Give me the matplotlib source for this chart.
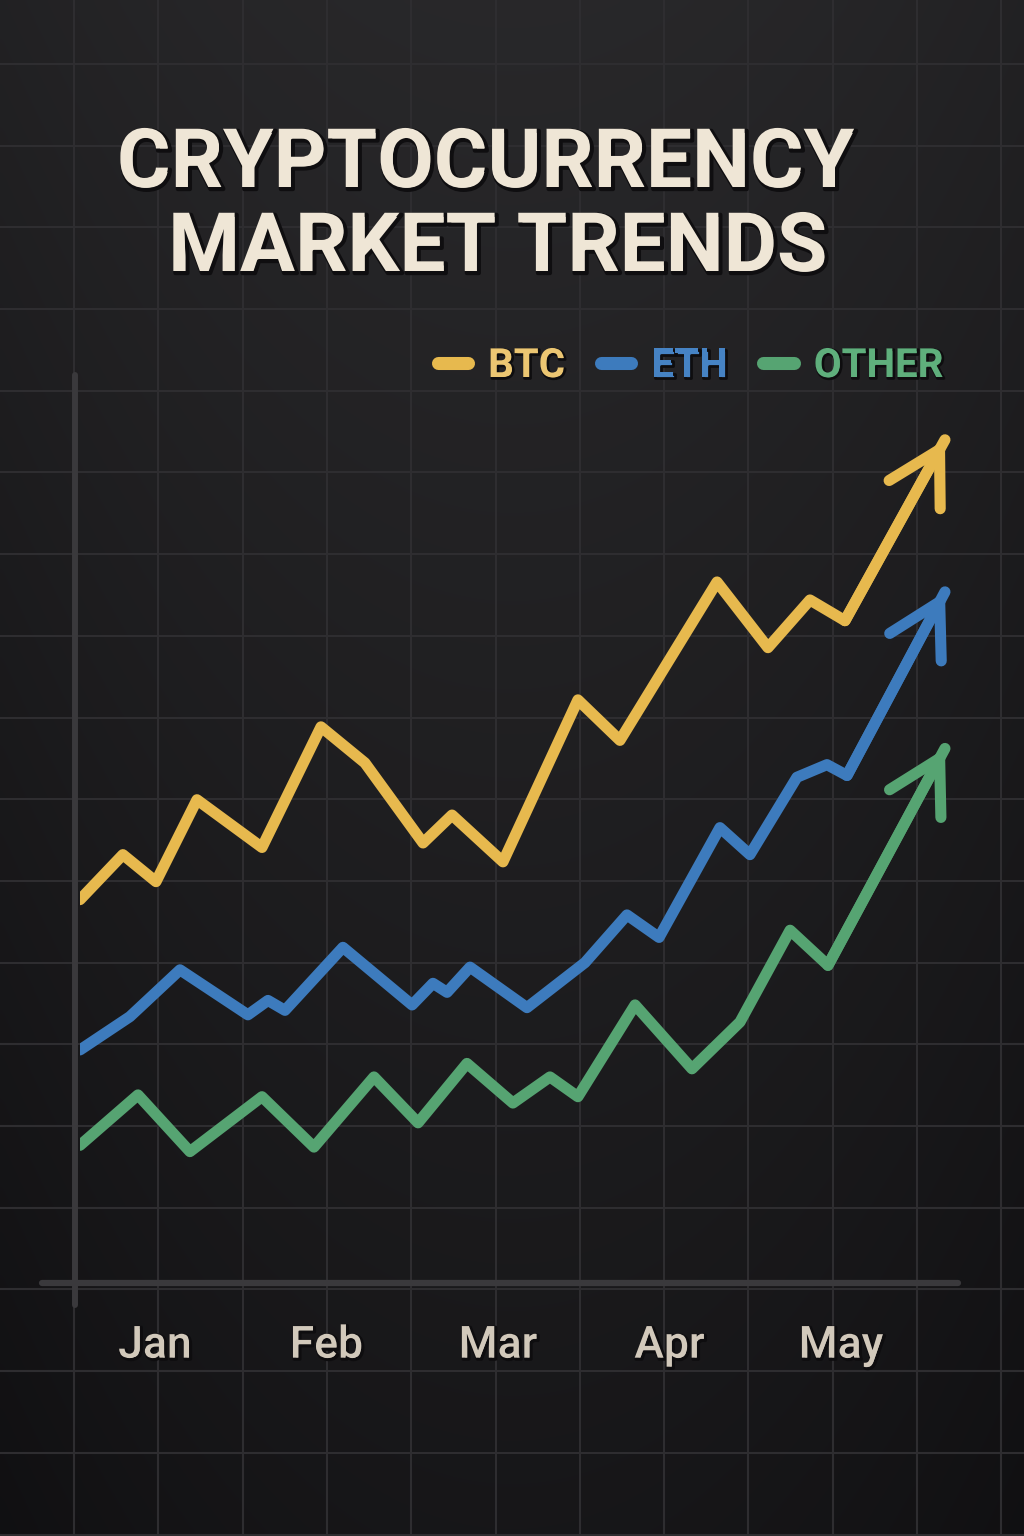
import numpy as np
import matplotlib
matplotlib.use('Agg')
import matplotlib.pyplot as plt
import matplotlib.patheffects as pe
from matplotlib.lines import Line2D

## data : x in months (Jan = 0), y in index points
months = ['Jan', 'Feb', 'Mar', 'Apr', 'May']

btc_x = [-0.437, -0.187, 0.006, 0.245, 0.624, 0.968, 1.224, 1.563, 1.732, 2.029,
         2.466, 2.711, 3.277, 3.574, 3.819, 4.023, 4.606]
btc_y = [42.6, 47.6, 44.6, 53.7, 48.4, 61.8, 57.8, 48.9, 52.0, 46.8,
         64.8, 60.3, 77.9, 70.6, 75.9, 73.6, 93.7]

eth_x = [-0.437, -0.146, 0.146, 0.542, 0.659, 0.758, 1.096, 1.499, 1.621, 1.703, 1.837,
         2.169, 2.507, 2.752, 2.939, 3.294, 3.469, 3.743, 3.918, 4.035, 4.606]
eth_y = [25.9, 29.6, 34.8, 29.8, 31.4, 30.3, 37.3, 30.9, 33.3, 32.3, 35.1,
         30.6, 35.6, 40.9, 38.4, 50.6, 47.6, 56.2, 57.6, 56.4, 76.8]

other_x = [-0.437, -0.099, 0.204, 0.624, 0.927, 1.277, 1.534, 1.819, 2.087, 2.303,
           2.466, 2.799, 3.131, 3.411, 3.703, 3.924, 4.606]
other_y = [15.3, 20.9, 14.6, 20.7, 15.1, 22.9, 17.8, 24.4, 20.0, 22.9,
           20.7, 30.9, 23.8, 29.0, 39.2, 35.3, 59.4]

series_names = ['BTC', 'ETH', 'OTHER']
line_colors = ['#e7b94e', '#3d7bbd', '#56a472']
label_colors = ['#ecc672', '#4683c4', '#5faf7c']

FONT = 'Roboto'

fig = plt.figure(figsize=(10.24, 15.36), dpi=100)

## background : dark gradient + square grid over the whole page
bg = fig.add_axes([0, 0, 1, 1], zorder=-10)
yy, xx = np.mgrid[0:1:300j, 0:1:200j]
shade = 0.158 - 0.068 * yy - 0.025 * ((xx - 0.5) * 2) ** 2
rgb = np.dstack([shade, shade - 0.002, shade + 0.006])
bg.imshow(np.clip(rgb, 0, 1), extent=[0, 1024, 1536, 0], aspect='auto', interpolation='bicubic')
bg.set_xlim(0, 1024)
bg.set_ylim(1536, 0)
bg.set_xticks(np.arange(74, 1024, 84.3))
bg.set_yticks(np.arange(64, 1536, 81.7))
bg.grid(True, color='#2e2d30', lw=1.5)
bg.tick_params(length=0, labelbottom=False, labelleft=False)
for s in bg.spines.values():
    s.set_visible(False)

## main chart
ax = fig.add_axes([80 / 1024, 1 - 1283 / 1536, 878 / 1024, 908 / 1536])
ax.patch.set_alpha(0)

for xs, ys, c in zip([btc_x, eth_x, other_x], [btc_y, eth_y, other_y], line_colors):
    ax.plot(xs, ys, color=c, lw=8, solid_capstyle='round', solid_joinstyle='round', zorder=3)
    ax.annotate('', xy=(xs[-1], ys[-1]), xytext=(xs[-2], ys[-2]),
                arrowprops=dict(arrowstyle='->,head_length=3.7,head_width=2.1', color=c, lw=8,
                                shrinkA=0, shrinkB=0, capstyle='round', joinstyle='round'),
                annotation_clip=False, zorder=3)

## axis lines (overshooting each other like in the drawing)
ax.axhline(0, xmin=(42 - 80) / 878, xmax=1, color='#3a393c', lw=4.5,
           solid_capstyle='round', clip_on=False, zorder=2)
ax.axvline(-0.466, ymin=-22 / 908, ymax=1, color='#3a393c', lw=4.3,
           solid_capstyle='round', clip_on=False, zorder=2)

ax.set_xlim(-0.437, 4.682)
ax.set_ylim(0, 100.9)
ax.set_xticks(range(len(months)), months)
ax.set_yticks([])
ax.tick_params(axis='x', length=0, pad=30, labelsize=32, labelcolor='#d2c9bb')
for lab in ax.get_xticklabels():
    lab.set_fontfamily(FONT)
    lab.set_fontweight('medium')
    lab.set_path_effects([pe.Stroke(linewidth=2.5, foreground='#0e0d0f', offset=(1, -1)), pe.Normal()])
for s in ax.spines.values():
    s.set_visible(False)

## legend
handles = [Line2D([], [], color=c, lw=9.4, solid_capstyle='round') for c in line_colors]
leg = ax.legend(handles, series_names, loc='center right', ncol=3, frameon=False,
                bbox_to_anchor=(943 / 1024, 1 - 366 / 1536), bbox_transform=fig.transFigure,
                prop=dict(family=FONT, weight='bold', size=29), labelcolor=label_colors,
                handlelength=0.75, handletextpad=0.5, columnspacing=0.9,
                borderpad=0, borderaxespad=0)
for t in leg.get_texts():
    t.set_path_effects([pe.Stroke(linewidth=2, foreground='#0e0d0f', offset=(1, -1)), pe.Normal()])

## title
title_fx = [pe.Stroke(linewidth=3, foreground='#0f0e10', offset=(1.5, -1.5)), pe.Normal()]
fig.text(486 / 1024, 1 - 187 / 1536, 'CRYPTOCURRENCY', ha='center', va='baseline',
         fontsize=59, fontweight='bold', color='#efe6d6', family=FONT, path_effects=title_fx)
fig.text(498 / 1024, 1 - 271 / 1536, 'MARKET TRENDS', ha='center', va='baseline',
         fontsize=59, fontweight='bold', color='#efe6d6', family=FONT, path_effects=title_fx)

fig.savefig('out.png', dpi=100)
